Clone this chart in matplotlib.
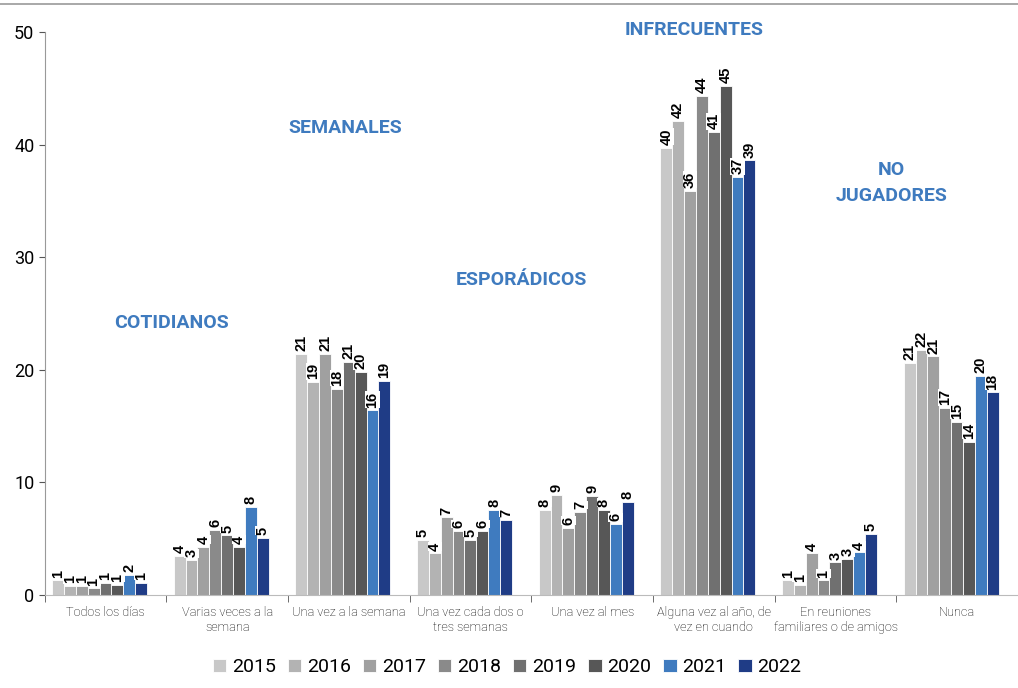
# %% Libraries
import numpy as np
import matplotlib.pyplot as plt
from matplotlib.lines import Line2D

plt.rcParams['font.family'] = ['Roboto', 'DejaVu Sans']

# %% Data
categories = ['Todos los días', 'Varias veces a la\nsemana', 'Una vez a la semana',
              'Una vez cada dos o\ntres semanas', 'Una vez al mes',
              'Alguna vez al año, de\nvez en cuando', 'En reuniones\nfamiliares o de amigos',
              'Nunca']
years = ['2015', '2016', '2017', '2018', '2019', '2020', '2021', '2022']

v2015 = [1.3, 3.5, 21.4, 4.9, 7.6, 39.7, 1.3, 20.6]
v2016 = [0.8, 3.1, 18.9, 3.7, 8.9, 42.1, 0.9, 21.8]
v2017 = [0.8, 4.3, 21.4, 6.9, 6.0, 35.9, 3.7, 21.2]
v2018 = [0.6, 5.8, 18.3, 5.7, 7.4, 44.3, 1.3, 16.6]
v2019 = [1.1, 5.3, 20.7, 4.9, 8.8, 41.1, 2.9, 15.4]
v2020 = [0.9, 4.3, 19.8, 5.7, 7.6, 45.2, 3.2, 13.6]
v2021 = [1.8, 7.8, 16.4, 7.6, 6.3, 37.1, 3.8, 19.5]
v2022 = [1.1, 5.1, 19.0, 6.7, 8.3, 38.6, 5.4, 18.0]
series = [v2015, v2016, v2017, v2018, v2019, v2020, v2021, v2022]

colors = ['#c8c8c8', '#b3b3b3', '#a0a0a0', '#8a8a8a', '#707070', '#575757', '#3f7bbf', '#1f3c86']

groups = ['COTIDIANOS', 'SEMANALES', 'ESPORÁDICOS', 'INFRECUENTES', 'NO\nJUGADORES']
group_pos = [(0.54, 24.2), (1.97, 41.5), (3.42, 28.0), (4.84, 50.2), (6.46, 36.6)]

# %% Plot
fig = plt.figure(figsize=(10.18, 6.88), dpi=100)
ax = fig.add_axes([0.044, 0.135, 0.956, 0.8185])

x = np.arange(len(categories))
n = len(series)
w = 0.78 / n
shift = -0.05
for i, vals in enumerate(series):
    xs = x + shift - 0.39 + w * (i + 0.5)
    ax.bar(xs, vals, width=w, color=colors[i], edgecolor='white', linewidth=0.6,
           label=years[i], zorder=2)
    for xi, v in zip(xs, vals):
        ax.text(xi, v + 0.25, f'{round(v):d}', rotation=90, ha='center', va='bottom',
                fontsize=10.5, fontweight='bold', family='Liberation Sans',
                color='black', zorder=3,
                bbox=dict(facecolor='white', edgecolor='none', pad=0.2))

for g, (gx, gy) in zip(groups, group_pos):
    ax.text(gx, gy, g, ha='center', va='center', color='#3f7bbf', fontsize=14,
            fontweight='bold', linespacing=1.6, clip_on=False)

ax.set_xlim(-0.5, 7.5)
ax.set_ylim(0, 50)
ax.set_yticks([0, 10, 20, 30, 40, 50])
ax.tick_params(axis='y', labelsize=13, length=4, color='#555555')
ax.set_xticks(x)
ax.set_xticklabels(categories, fontsize=9.2, fontweight='light')
ax.tick_params(axis='x', length=0, pad=8)
ax.set_xticks(np.arange(-0.5, 8.0, 1.0), minor=True)
ax.tick_params(axis='x', which='minor', length=5, color='#555555')
for s in ['top', 'right']:
    ax.spines[s].set_visible(False)
ax.spines['left'].set_color('#999999')
ax.spines['bottom'].set_color('#bbbbbb')

ax.legend(loc='center', bbox_to_anchor=(0.475, -0.128), ncol=8, frameon=False,
          fontsize=14, handlelength=0.7, handleheight=0.7, handletextpad=0.3,
          columnspacing=0.6)

fig.add_artist(Line2D([0, 1], [0.994, 0.994], color='#999999', linewidth=1.2))

fig.savefig('out.png', dpi=100)
